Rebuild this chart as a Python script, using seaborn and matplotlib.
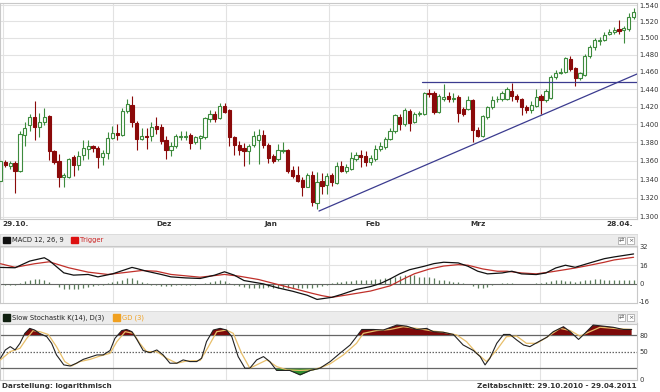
import numpy as np
import matplotlib
matplotlib.use('Agg')
import matplotlib.pyplot as plt
import seaborn as sns
from matplotlib.patches import Rectangle
from matplotlib.ticker import NullLocator

# --- candle data (one per trading day, 29.10.2010 - 29.04.2011) ---
opens = [1.338, 1.358, 1.354, 1.357, 1.349, 1.388, 1.399, 1.408, 1.397, 1.402,
         1.409, 1.370, 1.360, 1.342, 1.342, 1.364, 1.355, 1.366, 1.373, 1.376,
         1.374, 1.364, 1.368, 1.385, 1.390, 1.388, 1.415, 1.422, 1.401, 1.384,
         1.387, 1.387, 1.398, 1.397, 1.382, 1.372, 1.376, 1.386, 1.386, 1.388,
         1.380, 1.385, 1.386, 1.406, 1.412, 1.407, 1.421, 1.416, 1.386, 1.377,
         1.374, 1.370, 1.377, 1.383, 1.388, 1.377, 1.365, 1.362, 1.370, 1.372,
         1.350, 1.344, 1.339, 1.332, 1.344, 1.315, 1.338, 1.334, 1.344, 1.336,
         1.354, 1.349, 1.351, 1.362, 1.366, 1.365, 1.358, 1.362, 1.373, 1.375,
         1.384, 1.392, 1.408, 1.400, 1.415, 1.403, 1.411, 1.411, 1.436, 1.436,
         1.414, 1.429, 1.432, 1.428, 1.431, 1.417, 1.417, 1.427, 1.394, 1.387,
         1.408, 1.419, 1.428, 1.428, 1.429, 1.438, 1.432, 1.429, 1.420, 1.416,
         1.421, 1.432, 1.427, 1.430, 1.454, 1.458, 1.460, 1.475, 1.464, 1.453,
         1.456, 1.478, 1.489, 1.496, 1.497, 1.505, 1.507, 1.511, 1.509, 1.511,
         1.525]
closes = [1.360, 1.355, 1.357, 1.349, 1.389, 1.396, 1.408, 1.397, 1.403, 1.408,
          1.370, 1.358, 1.342, 1.344, 1.362, 1.355, 1.365, 1.374, 1.376, 1.374,
          1.364, 1.368, 1.385, 1.390, 1.388, 1.415, 1.423, 1.402, 1.384, 1.387,
          1.386, 1.397, 1.395, 1.381, 1.372, 1.376, 1.387, 1.387, 1.387, 1.379,
          1.386, 1.387, 1.407, 1.412, 1.406, 1.421, 1.414, 1.386, 1.377, 1.372,
          1.370, 1.376, 1.387, 1.388, 1.377, 1.363, 1.360, 1.371, 1.372, 1.349,
          1.343, 1.338, 1.332, 1.344, 1.316, 1.337, 1.333, 1.343, 1.337, 1.354,
          1.349, 1.353, 1.363, 1.366, 1.364, 1.358, 1.363, 1.373, 1.376, 1.384,
          1.392, 1.410, 1.400, 1.416, 1.401, 1.412, 1.413, 1.436, 1.434, 1.414,
          1.432, 1.431, 1.428, 1.430, 1.413, 1.412, 1.427, 1.394, 1.387, 1.409,
          1.419, 1.427, 1.429, 1.436, 1.440, 1.432, 1.428, 1.419, 1.416, 1.422,
          1.431, 1.427, 1.438, 1.454, 1.459, 1.460, 1.476, 1.463, 1.453, 1.458,
          1.479, 1.489, 1.497, 1.498, 1.504, 1.507, 1.509, 1.508, 1.512, 1.525,
          1.532]
highs = [1.362, 1.361, 1.360, 1.360, 1.392, 1.402, 1.412, 1.426, 1.413, 1.418,
         1.410, 1.372, 1.367, 1.346, 1.363, 1.366, 1.370, 1.383, 1.383, 1.377,
         1.376, 1.372, 1.391, 1.398, 1.400, 1.418, 1.428, 1.432, 1.404, 1.396,
         1.396, 1.402, 1.408, 1.400, 1.387, 1.380, 1.389, 1.392, 1.392, 1.390,
         1.387, 1.388, 1.408, 1.416, 1.415, 1.424, 1.424, 1.417, 1.387, 1.381,
         1.379, 1.378, 1.393, 1.395, 1.394, 1.379, 1.367, 1.378, 1.380, 1.373,
         1.354, 1.354, 1.342, 1.347, 1.349, 1.348, 1.346, 1.346, 1.346, 1.358,
         1.360, 1.356, 1.369, 1.369, 1.371, 1.370, 1.366, 1.377, 1.380, 1.386,
         1.396, 1.411, 1.412, 1.418, 1.417, 1.414, 1.415, 1.437, 1.440, 1.438,
         1.434, 1.446, 1.437, 1.435, 1.433, 1.420, 1.432, 1.428, 1.397, 1.410,
         1.421, 1.432, 1.432, 1.438, 1.442, 1.447, 1.434, 1.430, 1.422, 1.426,
         1.440, 1.434, 1.440, 1.456, 1.462, 1.464, 1.477, 1.478, 1.466, 1.460,
         1.481, 1.491, 1.500, 1.501, 1.507, 1.511, 1.513, 1.522, 1.514, 1.530,
         1.536]
lows = [1.335, 1.353, 1.351, 1.325, 1.348, 1.376, 1.393, 1.383, 1.386, 1.399,
        1.361, 1.356, 1.331, 1.332, 1.341, 1.343, 1.350, 1.361, 1.362, 1.369,
        1.352, 1.355, 1.362, 1.384, 1.383, 1.387, 1.413, 1.397, 1.371, 1.382,
        1.373, 1.381, 1.389, 1.378, 1.362, 1.365, 1.374, 1.383, 1.383, 1.373,
        1.378, 1.373, 1.384, 1.402, 1.402, 1.406, 1.413, 1.376, 1.366, 1.366,
        1.354, 1.356, 1.375, 1.356, 1.374, 1.357, 1.357, 1.360, 1.368, 1.347,
        1.341, 1.337, 1.322, 1.331, 1.311, 1.308, 1.324, 1.324, 1.333, 1.335,
        1.348, 1.347, 1.350, 1.360, 1.353, 1.354, 1.355, 1.360, 1.370, 1.373,
        1.382, 1.390, 1.394, 1.398, 1.393, 1.401, 1.409, 1.410, 1.431, 1.412,
        1.413, 1.426, 1.425, 1.425, 1.403, 1.409, 1.416, 1.380, 1.386, 1.386,
        1.406, 1.417, 1.425, 1.426, 1.427, 1.426, 1.425, 1.410, 1.413, 1.413,
        1.419, 1.412, 1.425, 1.428, 1.452, 1.457, 1.459, 1.461, 1.444, 1.450,
        1.455, 1.476, 1.486, 1.491, 1.496, 1.503, 1.505, 1.505, 1.494, 1.508,
        1.523]

# trend lines drawn on the chart (day index, price)
trend_x = [65.4, 130.7]
trend_y = [1.3062, 1.4574]
resist_x = [86.5, 130.7]
resist_y = [1.4484, 1.4484]

# axis labels
price_ticks = [1.30, 1.32, 1.34, 1.36, 1.38, 1.40, 1.42, 1.44, 1.46, 1.48, 1.50, 1.52, 1.54]
month_lines = [0.5, 23.1, 46.3, 67.5, 87.6, 110.8]
date_pos = [0.3, 33.5, 55.6, 76.4, 98.0, 129.9]
date_labels = ['29.10.', 'Dez', 'Jan', 'Feb', 'Mrz', '28.04.']

# MACD 12, 26, 9
macd_x = [0, 3, 6, 9, 10, 13, 15, 18, 20, 23, 27, 28, 30, 33, 35, 38, 41, 44, 46, 48,
          50, 54, 57, 60, 63, 65, 68, 70, 73, 76, 78, 80, 82, 84, 87, 89, 91, 94, 96, 98,
          100, 103, 105, 107, 110, 112, 114, 116, 118, 121, 124, 126, 130]
macd_v = [14, 13.7, 19.5, 22.4, 20, 9.3, 7.3, 7.9, 5.8, 8.4, 14, 13, 10.7, 7.9, 5.8, 4.9,
          4.4, 7.3, 10.2, 7.3, 2.6, -0.3, -3.8, -6.7, -10.2, -13.8, -12, -9.5, -5.2, -2.6,
          0, 4, 8.5, 12, 15, 17.3, 18.5, 17.9, 15, 10.7, 8.4, 9.2, 10.7, 8.4, 7.8, 9.2,
          13.5, 15.9, 14.1, 17.9, 21.6, 23.1, 25.7]
trig_x = [0, 3, 7, 10, 14, 18, 22, 25, 29, 32, 35, 41, 46, 49, 53, 57, 61, 64, 66, 68,
          71, 76, 80, 83, 85, 88, 91, 94, 96, 99, 102, 104, 107, 110, 113, 116, 118, 121,
          124, 126, 130]
trig_v = [17.2, 14.1, 17.2, 18.9, 13.7, 9.9, 7.9, 9.3, 11.3, 10.7, 7.9, 5.5, 7.9, 6.4,
          3.5, -0.9, -5.2, -8.5, -10.5, -12, -10, -6.5, -2, 4.5, 8.5, 12.5, 15.2, 16.4,
          15.9, 12.7, 10.7, 10.7, 9.2, 8.4, 10.1, 12.1, 13.5, 15.9, 18.5, 20.5, 22.8]
macd_hist = [-1.5, -1.5, -1, -1, 0.5, 2, 3.5, 4, 4, 3.5,
             1.5, -0.5, -3, -4.5, -5, -5, -4.5, -4, -3, -2,
             -1.5, -1, 0.5, 1.5, 2.5, 3.5, 5, 4.5, 3, 1.5,
             0.5, -1, -1.5, -2, -2, -2, -1.5, -1.5, -1, -1,
             -1, -0.5, 0.5, 1.5, 2.5, 3, 2, 0.5, -1, -2,
             -3, -3.5, -3.5, -3.5, -3.5, -3, -3.5, -3.5, -3.5, -3.5,
             -3.5, -3.5, -3.5, -3.5, -3.5, -3, -2.5, -1.5, 0.5, 1,
             1.5, 2, 2.5, 3, 3, 3.5, 3.5, 4, 4, 4.5,
             5, 5.5, 6.5, 7, 7.5, 7, 6, 6, 5.5, 4.5,
             3.5, 3, 2, 1.5, 1, 0.3, -0.5, -2.5, -4, -4,
             -3, -1.5, -0.5, 0.3, 0.3, 0.3, -0.5, -0.5, -0.5, -0.3,
             0.3, 0.5, 1.5, 2.5, 3, 3.5, 2.5, 2, 1.5, 2,
             3, 3.5, 4, 4, 3.5, 3, 3, 3, 3, 3,
             3.5]

# Slow Stochastik K(14), D(3)
k_x = [0, 1, 2, 3, 4, 5, 6, 7, 8, 9.5, 10.5, 11.5, 13, 14.3, 15.6, 17, 18.4, 19.8, 21.1,
       22.5, 23.5, 24.9, 25.9, 27, 28, 29.3, 30.7, 32.1, 33.4, 34.8, 36.2, 37.5, 38.9,
       40.3, 41.3, 42.3, 43.7, 45.1, 46.4, 47.5, 48.8, 50.2, 51.2, 52.6, 54, 55.3, 56.7,
       58.1, 59.4, 61.5, 63.6, 65.6, 67.7, 69.7, 71.8, 73.1, 74.2, 76.6, 78.6, 81.4, 83.4,
       85.5, 87.5, 88.9, 90.9, 93, 95, 97.1, 98.5, 99.5, 100.5, 101.9, 103.3, 104.6, 106,
       107.4, 108.7, 110.1, 112.2, 113.5, 115.6, 117, 118.7, 120, 121.7, 123.8, 125.8,
       127.9, 129.6]
k_v = [38, 53, 59, 53, 65, 83, 92, 89, 83, 77, 65, 44, 26, 24, 29, 36, 40, 44, 44, 52,
       74, 88, 90, 86, 72, 52, 48, 53, 44, 29, 29, 35, 32, 32, 38, 68, 89, 92, 89, 77,
       41, 20, 20, 35, 41, 32, 16, 16, 16, 8, 16, 20, 32, 47, 62, 77, 90, 90, 89, 98,
       96, 90, 92, 86, 85, 81, 62, 52, 41, 26, 38, 65, 81, 81, 71, 62, 59, 66, 76, 86,
       95, 86, 72, 83, 98, 96, 94, 90, 90]
d_x = [0, 2, 4, 5.4, 6.7, 8.1, 9.8, 11.5, 13.2, 14.6, 16.3, 18.4, 20.4, 22.5, 23.9, 25.6,
       27.3, 28.6, 30, 32.1, 34.1, 36.2, 38.2, 41, 42.7, 44.4, 46.4, 47.8, 49.5, 51.2,
       53.3, 54.7, 56.7, 58.8, 61.5, 64.2, 66.3, 67.7, 70.4, 73.1, 74.5, 77.2, 80, 82.7,
       85.5, 88.2, 90.9, 93.7, 95.7, 97.8, 99.8, 101.9, 103.9, 106, 108, 110.1, 112.2,
       114.9, 117, 119, 121, 123.1, 125.8, 129.6]
d_v = [35, 50, 56, 74, 88, 86, 81, 59, 32, 24, 32, 36, 42, 47, 68, 86, 83, 65, 50, 50,
       38, 29, 33, 34, 59, 86, 89, 83, 47, 20, 29, 35, 23, 17, 16, 17, 23, 28, 44, 65,
       83, 88, 90, 95, 92, 88, 85, 80, 68, 47, 32, 53, 77, 78, 65, 65, 76, 92, 88, 78,
       86, 94, 92, 90]

# --- style ---
sns.set_style('white')
plt.rcParams['font.family'] = ['DejaVu Sans']

GREEN = '#3d8b3d'
RED = '#8b0a0a'
GRID = '#e2e2e2'
FRAME = '#c8c8c8'
TXT = '#333333'

W, H = 660, 392
fig = plt.figure(figsize=(W / 100, H / 100), dpi=100)


def box(x0, y0, x1, y1):
    # pixel rectangle -> figure fraction
    return [x0 / W, 1 - y1 / H, (x1 - x0) / W, (y1 - y0) / H]


def style_frame(ax):
    for s in ax.spines.values():
        s.set_color(FRAME)
        s.set_linewidth(0.8)
    ax.set_xlim(-0.1, 130.7)
    ax.set_xticks(month_lines, minor=True)
    ax.xaxis.grid(True, which='minor', color=GRID, lw=0.8)
    ax.set_axisbelow(True)
    ax.yaxis.tick_right()
    ax.tick_params(axis='both', which='both', length=0, labelsize=5.5,
                   labelcolor=TXT, pad=3)
    ax.tick_params(axis='y', labelsize=4.9, pad=1.5)


# --- price panel ---
ax = fig.add_axes(box(0, 3, 637, 219))
style_frame(ax)
ax.set_yscale('log')
ax.set_ylim(1.2979, 1.5425)
ax.yaxis.set_minor_locator(NullLocator())
ax.set_yticks(price_ticks, [f'{v:.3f}' for v in price_ticks])
ax.yaxis.grid(True, which='major', color=GRID, lw=0.8)
ax.set_xticks(date_pos, date_labels)
for lab, ha in zip(ax.get_xticklabels(), ['left', 'center', 'center', 'center', 'center', 'right']):
    lab.set_ha(ha)
    lab.set_fontweight('bold')
ax.tick_params(axis='x', pad=1.5, labelsize=5.3)

o = np.array(opens)
c = np.array(closes)
hi = np.array(highs)
lo = np.array(lows)
idx = np.arange(len(o))
up = c >= o
bottom = np.minimum(o, c)
height = np.maximum(np.abs(c - o), 0.0007)

ax.vlines(idx[up], lo[up], hi[up], color=GREEN, lw=0.8, zorder=2)
ax.vlines(idx[~up], lo[~up], hi[~up], color=RED, lw=0.8, zorder=2)
ax.bar(idx[up], height[up], bottom=bottom[up], width=0.66, facecolor='white',
       edgecolor=GREEN, lw=0.8, zorder=3)
ax.bar(idx[~up], height[~up], bottom=bottom[~up], width=0.66, facecolor=RED,
       edgecolor=RED, lw=0.8, zorder=3)

ax.plot(trend_x, trend_y, color='#3b3b8f', lw=0.9, zorder=4)
ax.plot(resist_x, resist_y, color='#3b3b8f', lw=0.9, zorder=4)


# --- panel headers ---
def header(y0, y1, items):
    hx = fig.add_axes(box(0, y0, 637, y1))
    hx.set_facecolor('#ececec')
    hx.set_xlim(0, 637)
    hx.set_ylim(y1 - y0, 0)
    hx.set_xticks([])
    hx.set_yticks([])
    for s in hx.spines.values():
        s.set_color('#dadada')
        s.set_linewidth(0.6)
    mid = (y1 - y0) / 2
    for x, sq, label, col in items:
        hx.add_patch(Rectangle((x, mid - 3.2), 6.5, 6.5, color=sq))
        hx.text(x + 9, mid + 0.3, label, fontsize=4.9, color=col, va='center', ha='left')
    for x, g in [(618, '⇄'), (627, '×')]:
        hx.add_patch(Rectangle((x, mid - 3.5), 7, 7, facecolor='white',
                               edgecolor='#a0a0a0', lw=0.5))
        hx.text(x + 3.5, mid + 0.2, g, fontsize=4.5, color='#555555', ha='center', va='center')


header(234, 246, [(3, '#111111', 'MACD 12, 26, 9', '#222222'),
                  (71, '#dd1111', 'Trigger', '#cc2222')])
header(311, 323.5, [(3, '#0f1f0f', 'Slow Stochastik K(14), D(3)', '#222222'),
                    (113, '#f0a020', 'GD (3)', '#f0a020')])

# --- MACD panel ---
ax2 = fig.add_axes(box(0, 246, 637, 303))
style_frame(ax2)
ax2.set_ylim(-16.9, 32.6)
ax2.set_yticks([32, 16, 0, -16], ['32', '16', '0', '-16'])
ax2.set_xticks([])
ax2.axhline(16, color=GRID, lw=0.8, zorder=0)
ax2.axhline(32, color=GRID, lw=0.8, zorder=0)
ax2.axhline(0, color='#666666', lw=0.8, zorder=1)
ax2.vlines(idx, 0, macd_hist, color='#5b7b5b', lw=0.9, zorder=2)
sns.lineplot(x=trig_x, y=trig_v, color='#c0302a', lw=0.9, ax=ax2, zorder=3)
sns.lineplot(x=macd_x, y=macd_v, color='#111111', lw=0.9, ax=ax2, zorder=4)
ax2.set_xlim(-0.1, 130.7)

# --- stochastic panel ---
ax3 = fig.add_axes(box(0, 323.5, 637, 380))
style_frame(ax3)
ax3.set_ylim(-1.3, 100.8)
ax3.set_yticks([80, 50, 0], ['80', '50', '0'])
ax3.set_xticks([])
ax3.axhline(80, color='#666666', lw=0.9, zorder=1)
ax3.axhline(20, color='#666666', lw=0.9, zorder=1)
ax3.axhline(50, color='#666666', lw=0.9, ls=(0, (1.2, 1.2)), zorder=1)
kx = np.array(k_x)
kv = np.array(k_v, dtype=float)
ax3.fill_between(kx, 80, kv, where=kv > 80, interpolate=True, color='#7d0a0a', lw=0, zorder=2)
ax3.fill_between(kx, kv, 20, where=kv < 20, interpolate=True, color='#2f8f2f', lw=0, zorder=2)
sns.lineplot(x=d_x, y=d_v, color='#e8bf6a', lw=0.9, ax=ax3, zorder=3)
sns.lineplot(x=k_x, y=k_v, color='#222222', lw=0.8, ax=ax3, zorder=4)
ax3.set_xlim(-0.1, 130.7)

# --- footer ---
fig.text(2 / W, 1 - 386 / H, 'Darstellung: logarithmisch', fontsize=5.2,
         fontweight='bold', color=TXT, ha='left', va='center')
fig.text(637 / W, 1 - 386 / H, 'Zeitabschnitt: 29.10.2010 - 29.04.2011', fontsize=5.2,
         fontweight='bold', color=TXT, ha='right', va='center')

fig.savefig('out.png', dpi=100, facecolor='white')
